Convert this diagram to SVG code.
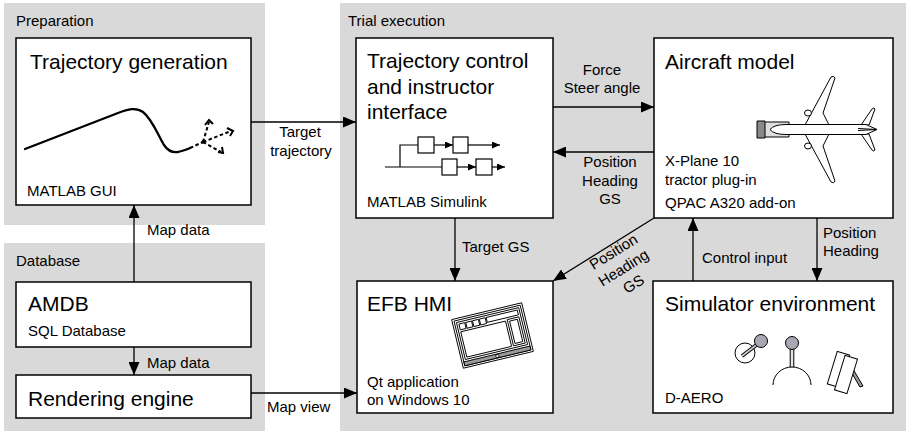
<svg xmlns="http://www.w3.org/2000/svg" width="910" height="433" viewBox="0 0 910 433">
  <style>
    text { font-family: "Liberation Sans", Arial, sans-serif; fill: #000; }
    .sec { fill: #d9d9d9; }
    .box { fill: #fff; stroke: #000; stroke-width: 1.5; }
    .title { font-size: 21px; }
    .small { font-size: 15px; }
    .lbl { font-size: 15px; }
    .mid { text-anchor: middle; }
    .conn { fill: none; stroke: #000; stroke-width: 1.3; marker-end: url(#arr); }
    .thin { fill: none; stroke: #000; stroke-width: 1.2; }
    .icon { fill: #fff; stroke: #000; stroke-width: 1; }
    .knob { fill: #a8a8b2; stroke: #000; stroke-width: 1; }
  </style>
  <defs>
    <marker id="arr" markerUnits="userSpaceOnUse" markerWidth="13" markerHeight="11" refX="13" refY="5.5" orient="auto">
      <path d="M0,0 L13,5.5 L0,11 Z" fill="#000"/>
    </marker>
    <marker id="sarr" markerUnits="userSpaceOnUse" markerWidth="8" markerHeight="7" refX="8" refY="3.5" orient="auto">
      <path d="M0,0 L8,3.5 L0,7 Z" fill="#000"/>
    </marker>
  </defs>

  <!-- section backgrounds -->
  <g id="sections">
    <rect class="sec" x="4" y="3" width="261" height="222"/>
    <rect class="sec" x="4" y="243" width="261" height="188"/>
    <rect class="sec" x="340" y="3" width="566" height="428"/>
    <text class="small" x="16" y="26">Preparation</text>
    <text class="small" x="16" y="266">Database</text>
    <text class="small" x="348" y="26">Trial execution</text>
  </g>

  <!-- Trajectory generation -->
  <g id="trajectory-generation">
    <rect class="box" x="16" y="38" width="235" height="167"/>
    <text class="title" x="30" y="69">Trajectory generation</text>
    <path d="M25,149 L118,113 C128,109 136,107 143,112 C152,119 158,135 164,145 C168,151 172,153 178,152 C182,151 186,150 190,148" fill="none" stroke="#000" stroke-width="2.3" stroke-linecap="round"/>
    <g fill="none" stroke="#000" stroke-width="2" stroke-dasharray="3.5,2.5">
      <path d="M190,148 L203,142"/>
      <path d="M203,142 L209,122"/>
      <path d="M203,142 L231,131"/>
      <path d="M203,142 L221,152"/>
    </g>
    <circle cx="203" cy="142" r="1.8" fill="#000"/>
    <g fill="none" stroke="#000" stroke-width="2">
      <path d="M205,125 L209,120 L213,124"/>
      <path d="M227,128 L233,131 L230,136"/>
      <path d="M218,152 L223,153 L222,147"/>
    </g>
    <text class="small" x="27" y="196">MATLAB GUI</text>
  </g>

  <!-- Trajectory control and instructor interface -->
  <g id="trajectory-control">
    <rect class="box" x="356" y="38" width="197" height="180"/>
    <text class="title" x="367" y="68">Trajectory control</text>
    <text class="title" x="367" y="94">and instructor</text>
    <text class="title" x="367" y="119">interface</text>
    <g class="thin">
      <path d="M385,167 H442"/>
      <path d="M400,167 V145 H418"/>
      <rect x="418" y="137" width="16" height="16"/>
      <rect x="453" y="137" width="15" height="16"/>
      <rect x="442" y="159" width="15" height="16"/>
      <rect x="476" y="159" width="16" height="16"/>
      <path d="M434,145 H453" marker-end="url(#sarr)"/>
      <path d="M468,145 H500" marker-end="url(#sarr)"/>
      <path d="M457,167 H476" marker-end="url(#sarr)"/>
      <path d="M492,167 H505" marker-end="url(#sarr)"/>
    </g>
    <text class="small" x="367" y="207">MATLAB Simulink</text>
  </g>

  <!-- Aircraft model -->
  <g id="aircraft-model">
    <rect class="box" x="654" y="38" width="239" height="180"/>
    <text class="title" x="665" y="69">Aircraft model</text>
    <g stroke="#000" stroke-width="1" stroke-linejoin="round">
      <!-- wings and tail -->
      <path class="icon" d="M805,125 L831,77 Q834,75 835,78 L823,113 L829,125 Z"/>
      <path class="icon" d="M805,134 L831,182 Q834,184 835,181 L823,146 L829,134 Z"/>
      <ellipse class="icon" cx="808" cy="113" rx="3.5" ry="3"/>
      <ellipse class="icon" cx="808" cy="146" rx="3.5" ry="3"/>
      <path class="icon" d="M861,125 L872,109 Q874,107 875,109 L869,125 Z"/>
      <path class="icon" d="M861,134 L872,150 Q874,152 875,150 L869,134 Z"/>
      <!-- tractor -->
      <rect x="758" y="122" width="31" height="15" fill="#ddd"/>
      <rect x="757" y="121" width="8" height="17" fill="#888"/>
      <!-- fuselage -->
      <path class="icon" d="M770,129.5 Q774,124.5 786,124.5 L866,124.5 L877,129.5 L866,134.5 L786,134.5 Q774,134.5 770,129.5 Z"/>
      <path d="M858,128.5 L877,129.5 L858,130.5" fill="none"/>
    </g>
    <text class="small" x="665" y="166">X-Plane 10</text>
    <text class="small" x="665" y="185">tractor plug-in</text>
    <text class="small" x="665" y="208">QPAC A320 add-on</text>
  </g>

  <!-- EFB HMI -->
  <g id="efb-hmi">
    <rect class="box" x="357" y="281" width="196" height="132"/>
    <text class="title" x="367" y="311">EFB HMI</text>
    <g transform="translate(492.5,335.5) rotate(-13.5)" stroke="#000" stroke-width="0.9">
      <rect x="-36" y="-25" width="72" height="50" fill="#fff"/>
      <rect x="-34" y="-23" width="68" height="46" fill="none"/>
      <rect x="-34" y="19" width="68" height="4" fill="#9a9a9a"/>
      <circle cx="0" cy="21" r="1.6" fill="#fff"/>
      <rect x="-32" y="-21" width="64" height="38" fill="none"/>
      <rect x="-30" y="-19" width="6" height="6" fill="none"/>
      <rect x="-23" y="-19" width="6" height="6" fill="none"/>
      <rect x="-16" y="-19" width="6" height="6" fill="none"/>
      <rect x="-9" y="-19" width="6" height="6" fill="none"/>
      <rect x="-2" y="-19" width="32" height="5" fill="none"/>
      <rect x="18" y="-12" width="12" height="27" fill="none"/>
      <rect x="20" y="-10" width="8" height="23" fill="none"/>
      <rect x="-30" y="-11" width="46" height="26" fill="none"/>
    </g>
    <text class="small" x="367" y="387">Qt application</text>
    <text class="small" x="367" y="405">on Windows 10</text>
  </g>

  <!-- Simulator environment -->
  <g id="simulator-environment">
    <rect class="box" x="653" y="281" width="240" height="132"/>
    <text class="title" x="665" y="311">Simulator environment</text>
    <!-- yoke -->
    <circle class="icon" cx="745" cy="353" r="10"/>
    <path d="M742,356 L759,343" stroke="#000" stroke-width="3.6"/>
    <path d="M742,356 L759,343" stroke="#c8c8c8" stroke-width="1.8"/>
    <circle class="knob" cx="761" cy="341" r="6.5"/>
    <!-- stick -->
    <path d="M773,385 A19,18 0 0 1 811,385" fill="none" stroke="#000" stroke-width="1"/>
    <path d="M792,349 V367" stroke="#000" stroke-width="4.6"/>
    <path d="M792,349 V366.5" stroke="#e6e6e6" stroke-width="2.6"/>
    <circle class="knob" cx="792" cy="343" r="6.5"/>
    <!-- pedals -->
    <polygon points="850,370 853,369 863,386 860,387" fill="#9a9a9a" stroke="#000" stroke-width="1"/>
    <rect class="icon" x="-6.5" y="-17" width="13" height="34" transform="translate(838.5,369.5) rotate(17)"/>
    <rect class="icon" x="-6.5" y="-18" width="13" height="36" transform="translate(846,374.5) rotate(17)"/>
    <text class="small" x="665" y="403">D-AERO</text>
  </g>

  <!-- AMDB -->
  <g id="amdb">
    <rect class="box" x="16" y="282" width="235" height="65"/>
    <text class="title" x="28" y="311">AMDB</text>
    <text class="small" x="28" y="336">SQL Database</text>
  </g>

  <!-- Rendering engine -->
  <g id="rendering-engine">
    <rect class="box" x="16" y="375" width="235" height="43"/>
    <text class="title" x="28" y="406">Rendering engine</text>
  </g>

  <!-- connectors -->
  <g id="connectors">
    <path class="conn" d="M251,122 H356"/>
    <path class="conn" d="M553,107 H654"/>
    <path class="conn" d="M654,152 H553"/>
    <path class="conn" d="M455,218 V281"/>
    <path class="conn" d="M654,218 L553,281"/>
    <path class="conn" d="M693,281 V218"/>
    <path class="conn" d="M817,218 V281"/>
    <path class="conn" d="M134,282 V205"/>
    <path class="conn" d="M134,347 V375"/>
    <path class="conn" d="M251,393 H357"/>

    <text class="lbl mid" x="300" y="137">Target</text>
    <text class="lbl mid" x="301" y="156">trajectory</text>
    <text class="lbl mid" x="602" y="75">Force</text>
    <text class="lbl mid" x="602" y="93">Steer angle</text>
    <text class="lbl mid" x="610" y="167">Position</text>
    <text class="lbl mid" x="610" y="186">Heading</text>
    <text class="lbl mid" x="610" y="204">GS</text>
    <text class="lbl" x="462" y="252">Target GS</text>
    <g transform="translate(623.5,268) rotate(-32)">
      <text class="lbl mid" x="0" y="-14">Position</text>
      <text class="lbl mid" x="0" y="5">Heading</text>
      <text class="lbl mid" x="0" y="24">GS</text>
    </g>
    <text class="lbl" x="702" y="263">Control input</text>
    <text class="lbl" x="823" y="238">Position</text>
    <text class="lbl" x="823" y="256">Heading</text>
    <text class="lbl" x="147" y="235">Map data</text>
    <text class="lbl" x="147" y="368">Map data</text>
    <text class="lbl" x="267" y="412">Map view</text>
  </g>
</svg>
